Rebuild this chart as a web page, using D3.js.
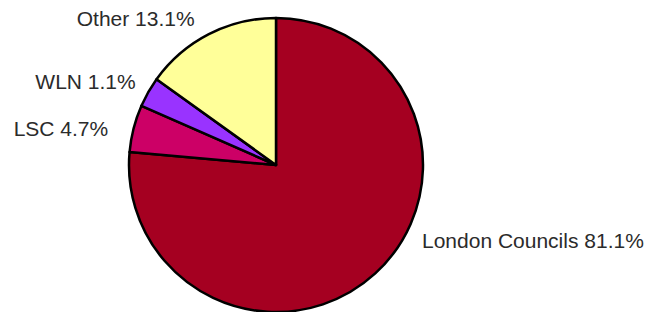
<!DOCTYPE html>
<html>
<head>
<meta charset="utf-8">
<script src="https://cdn.jsdelivr.net/npm/d3@7"></script>
<style>
  body { margin: 0; background: #fff; }
</style>
</head>
<body>
<script>
const width = 648;
const height = 312;

// slices as drawn (share of the circle) and the label text shown beside them
const categories = ["London Councils", "LSC", "WLN", "Other"];
const shares = [76.4, 5.2, 3.3, 15.1];
const labelPct = ["81.1%", "4.7%", "1.1%", "13.1%"];
const colors = ["#A50021", "#CC0066", "#9933FF", "#FFFF99"];

const cx = 276;
const cy = 165;
const radius = 147;

// small label nudges relative to the label arc
const nudge = [
  { dx: 0, dy: 0, anchor: "start" },
  { dx: -8, dy: 12, anchor: "end" },
  { dx: 3, dy: 6, anchor: "end" },
  { dx: -6, dy: 8, anchor: "end" },
];

const datos = categories.map((c, i) => ({
  name: c,
  value: shares[i],
  pct: labelPct[i],
  color: colors[i],
}));

const svg = d3
  .select("body")
  .append("svg")
  .attr("width", width)
  .attr("height", height);

const g = svg.append("g").attr("transform", `translate(${cx}, ${cy})`);

const pie = d3
  .pie()
  .sort(null)
  .value((d) => d.value);

const arc = d3.arc().innerRadius(0).outerRadius(radius);
const labelArc = d3
  .arc()
  .innerRadius(radius + 18)
  .outerRadius(radius + 18);

const arcs = pie(datos);

g.selectAll("path")
  .data(arcs)
  .join("path")
  .attr("d", arc)
  .attr("fill", (d) => d.data.color)
  .attr("stroke", "#000")
  .attr("stroke-width", 2.5)
  .attr("stroke-linejoin", "round");

g.selectAll("text")
  .data(arcs)
  .join("text")
  .attr("x", (d, i) => {
    const [x] = labelArc.centroid(d);
    return i === 0 ? radius - 1 : x + nudge[i].dx;
  })
  .attr("y", (d, i) => {
    const [, y] = labelArc.centroid(d);
    return i === 0 ? 83 : y + nudge[i].dy;
  })
  .attr("text-anchor", (d, i) => nudge[i].anchor)
  .attr("font-family", "Liberation Sans, Arial, sans-serif")
  .attr("font-size", 21)
  .attr("fill", "#2b2b2b")
  .text((d) => `${d.data.name} ${d.data.pct}`);
</script>
</body>
</html>
